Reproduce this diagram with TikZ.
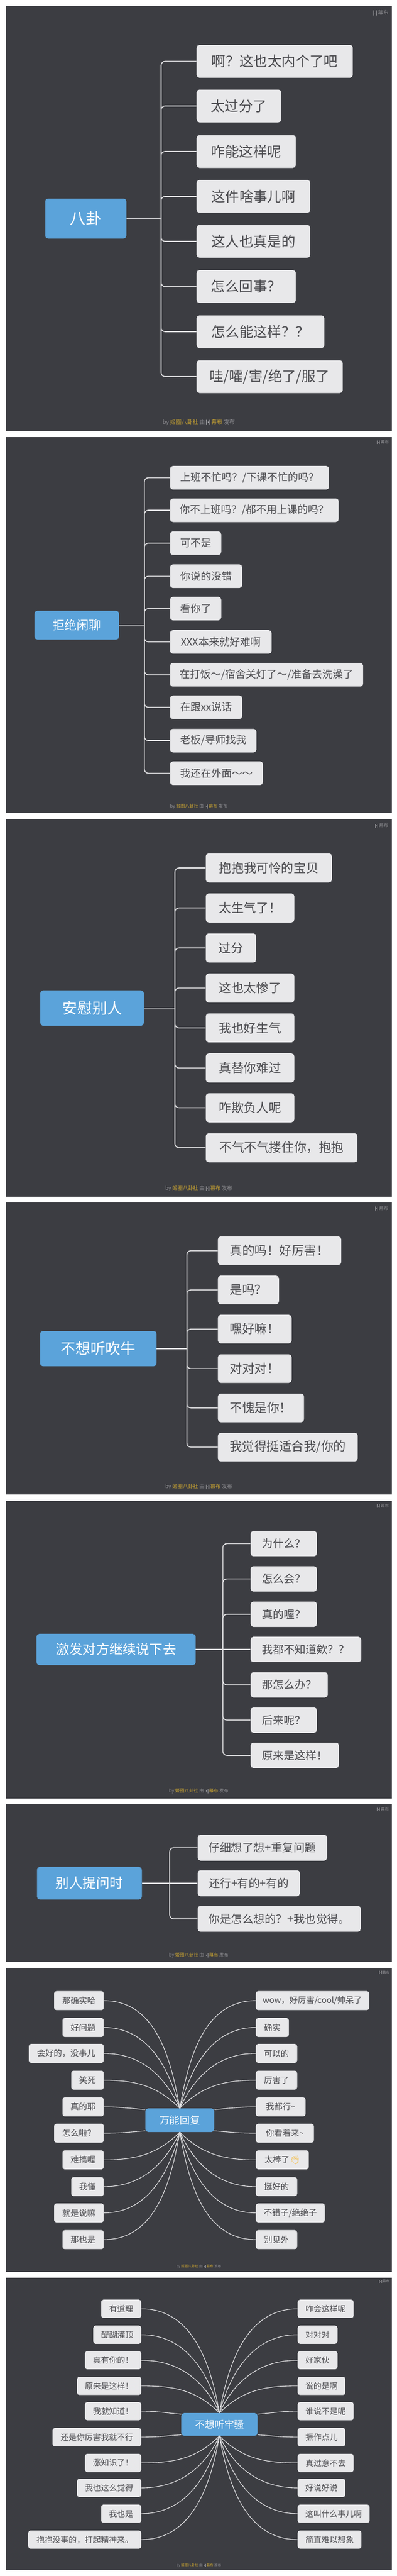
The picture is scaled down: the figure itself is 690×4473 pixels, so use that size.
\documentclass[tikz,border=0pt]{standalone}
\usepackage{fontspec}
\usepackage{tikz}
\usepackage{xcolor}
\setmainfont{Noto Sans CJK SC}
\newfontfamily\emojifont{Noto Emoji}
\definecolor{mmdark}{RGB}{60,61,66}
\definecolor{mmblue}{RGB}{91,163,218}
\definecolor{mmlight}{RGB}{232,232,234}
\definecolor{mmtext}{RGB}{74,74,78}
\definecolor{mmline}{RGB}{222,222,224}
\definecolor{mmgrey}{RGB}{140,140,144}
\definecolor{mmgold}{RGB}{196,160,50}
\definecolor{mmclap}{RGB}{245,190,70}
\newcommand{\mubumark}{\rule[-0.1em]{0.14em}{0.9em}\kern0.12em\raisebox{0.28em}{\rule{0.16em}{0.16em}}\kern0.12em\rule[-0.1em]{0.14em}{0.9em}}
\newcommand{\fontpx}[1]{\fontsize{#1}{#1}\selectfont}
\newcommand{\byline}{by \textcolor{mmgold}{姬圈八卦社} 由 \mubumark{} \textcolor{mmgold}{幕布} 发布}
\tikzstyle{topic} = [rectangle, rounded corners=5pt, inner sep=0pt, text=white, fill=mmblue]
\tikzstyle{reply} = [rectangle, rounded corners=5pt, inner sep=0pt, text=mmtext, fill=mmlight, anchor=west]
\tikzstyle{replyl} = [reply, anchor=east]
\tikzstyle{link} = [draw=mmline, line width=1.6pt]
\tikzstyle{branch} = [link, rounded corners=7pt]
\tikzstyle{spoke} = [draw=mmline, line width=1.1pt]
\tikzstyle{logo} = [inner sep=0pt, anchor=east, text=mmgrey]
\tikzstyle{foot} = [inner sep=0pt, text=mmgrey]

\begin{document}
\begin{tikzpicture}[x=1pt,y=-1pt]
\useasboundingbox (0,0) rectangle (690,4473);
\fill[white] (0,0) rectangle (690,4473);

% Panels
\fill[mmdark] (10,10) rectangle (681,749);
\fill[mmdark] (10,759) rectangle (681,1411);
\fill[mmdark] (10,1422) rectangle (681,2078);
\fill[mmdark] (10,2088) rectangle (681,2595);
\fill[mmdark] (10,2606) rectangle (681,3123);
\fill[mmdark] (10,3132) rectangle (681,3407);
\fill[mmdark] (10,3417) rectangle (681,3945);
\fill[mmdark] (10,3955) rectangle (681,4463);

% Gossip
\node[topic, minimum width=141pt, minimum height=69.5pt, font=\fontpx{27.5}] (gossip) at (149,379.5) {八卦};
\coordinate (gossiptrunk) at (280,379.5);
\tikzstyle{replyg} = [reply, minimum height=57pt, font=\fontpx{24.4}]
\node[replyg, minimum width=271.5pt] (g1) at (341.5,106.5) {啊？这也太内个了吧};
\node[replyg, minimum width=147pt] (g2) at (341.5,184) {太过分了};
\node[replyg, minimum width=172.5pt] (g3) at (341.5,263) {咋能这样呢};
\node[replyg, minimum width=197.5pt] (g4) at (341.5,341) {这件啥事儿啊};
\node[replyg, minimum width=197.5pt] (g5) at (341.5,419) {这人也真是的};
\node[replyg, minimum width=172.5pt] (g6) at (341.5,497.5) {怎么回事？};
\node[replyg, minimum width=222pt] (g7) at (341.5,576) {怎么能这样？？};
\node[replyg, minimum width=254pt] (g8) at (341.5,654) {哇/嚯/害/绝了/服了};
\draw[link] (gossip.east) -- (gossiptrunk);
\draw[branch] (gossiptrunk) |- (g1.west);
\draw[branch] (gossiptrunk) |- (g2.west);
\draw[branch] (gossiptrunk) |- (g3.west);
\draw[branch] (gossiptrunk) |- (g4.west);
\draw[branch] (gossiptrunk) |- (g5.west);
\draw[branch] (gossiptrunk) |- (g6.west);
\draw[branch] (gossiptrunk) |- (g7.west);
\draw[branch] (gossiptrunk) |- (g8.west);
\node[logo, font=\fontpx{9}] (logog) at (675,22.3) {\mubumark\ 幕布};
\node[foot, font=\fontpx{9.7}] (footg) at (345.5,733.4) {\byline};

% Declining small talk
\node[topic, minimum width=147pt, minimum height=50pt, font=\fontpx{21}] (decline) at (133.4,1085.6) {拒绝闲聊};
\coordinate (declinetrunk) at (250.9,1085.6);
\tikzstyle{replyd} = [reply, minimum height=41pt, font=\fontpx{18}]
\node[replyd, minimum width=276.4pt] (d1) at (295.3,829.6) {上班不忙吗？/下课不忙的吗？};
\node[replyd, minimum width=293.2pt] (d2) at (295.3,886) {你不上班吗？/都不用上课的吗？};
\node[replyd, minimum width=89pt] (d3) at (295.3,943.2) {可不是};
\node[replyd, minimum width=125.5pt] (d4) at (295.3,1000.6) {你说的没错};
\node[replyd, minimum width=89pt] (d5) at (295.3,1056.8) {看你了};
\node[replyd, minimum width=176.5pt] (d6) at (295.3,1114.6) {XXX本来就好难啊};
\node[replyd, minimum width=335.7pt] (d7) at (295.3,1171.7) {在打饭～/宿舍关灯了～/准备去洗澡了};
\node[replyd, minimum width=125.5pt] (d8) at (295.3,1228.1) {在跟xx说话};
\node[replyd, minimum width=150.1pt] (d9) at (295.3,1286) {老板/导师找我};
\node[replyd, minimum width=161.6pt] (d10) at (295.3,1342.6) {我还在外面～～};
\draw[link] (decline.east) -- (declinetrunk);
\draw[branch] (declinetrunk) |- (d1.west);
\draw[branch] (declinetrunk) |- (d2.west);
\draw[branch] (declinetrunk) |- (d3.west);
\draw[branch] (declinetrunk) |- (d4.west);
\draw[branch] (declinetrunk) |- (d5.west);
\draw[branch] (declinetrunk) |- (d6.west);
\draw[branch] (declinetrunk) |- (d7.west);
\draw[branch] (declinetrunk) |- (d8.west);
\draw[branch] (declinetrunk) |- (d9.west);
\draw[branch] (declinetrunk) |- (d10.west);
\node[logo, font=\fontpx{7}] (logod) at (676,768) {\mubumark\ 幕布};
\node[foot, font=\fontpx{7.7}] (footd) at (345.5,1400.5) {\byline};

% Comforting
\node[topic, minimum width=180pt, minimum height=61.7pt, font=\fontpx{26}] (comfort) at (160,1750.4) {安慰别人};
\coordinate (comforttrunk) at (304,1750.4);
\tikzstyle{replyc} = [reply, minimum height=50.5pt, font=\fontpx{21.6}]
\node[replyc, minimum width=219.2pt] (c1) at (357.4,1507) {抱抱我可怜的宝贝};
\node[replyc, minimum width=154pt] (c2) at (357.4,1576.5) {太生气了！};
\node[replyc, minimum width=87.6pt] (c3) at (357.4,1646) {过分};
\node[replyc, minimum width=154pt] (c4) at (357.4,1715.6) {这也太惨了};
\node[replyc, minimum width=154pt] (c5) at (357.4,1784.8) {我也好生气};
\node[replyc, minimum width=154pt] (c6) at (357.4,1854.4) {真替你难过};
\node[replyc, minimum width=154pt] (c7) at (357.4,1923.5) {咋欺负人呢};
\node[replyc, minimum width=263.6pt] (c8) at (357.4,1993) {不气不气搂住你，抱抱};
\draw[link] (comfort.east) -- (comforttrunk);
\draw[branch] (comforttrunk) |- (c1.west);
\draw[branch] (comforttrunk) |- (c2.west);
\draw[branch] (comforttrunk) |- (c3.west);
\draw[branch] (comforttrunk) |- (c4.west);
\draw[branch] (comforttrunk) |- (c5.west);
\draw[branch] (comforttrunk) |- (c6.west);
\draw[branch] (comforttrunk) |- (c7.west);
\draw[branch] (comforttrunk) |- (c8.west);
\node[logo, font=\fontpx{8}] (logoc) at (675,1434) {\mubumark\ 幕布};
\node[foot, font=\fontpx{9}] (footc) at (345.5,2064) {\byline};

% Not listening to bragging
\node[topic, minimum width=202.5pt, minimum height=61.3pt, font=\fontpx{26}] (brag) at (170.8,2341.7) {不想听吹牛};
\coordinate (bragtrunk) at (324.8,2341.7);
\tikzstyle{replyb} = [reply, minimum height=49.7pt, font=\fontpx{21.5}]
\node[replyb, minimum width=214.4pt] (b1) at (378.5,2171.7) {真的吗！好厉害！};
\node[replyb, minimum width=106.1pt] (b2) at (378.5,2239.8) {是吗？};
\node[replyb, minimum width=128.1pt] (b3) at (378.5,2307.8) {嘿好嘛！};
\node[replyb, minimum width=128.1pt] (b4) at (378.5,2376.4) {对对对！};
\node[replyb, minimum width=149.7pt] (b5) at (378.5,2444.7) {不愧是你！};
\node[replyb, minimum width=243pt] (b6) at (378.5,2512.8) {我觉得挺适合我/你的};
\draw[link] (brag.east) -- (bragtrunk);
\draw[branch] (bragtrunk) |- (b1.west);
\draw[branch] (bragtrunk) |- (b2.west);
\draw[branch] (bragtrunk) |- (b3.west);
\draw[branch] (bragtrunk) |- (b4.west);
\draw[branch] (bragtrunk) |- (b5.west);
\draw[branch] (bragtrunk) |- (b6.west);
\node[logo, font=\fontpx{8}] (logob) at (675,2098.6) {\mubumark\ 幕布};
\node[foot, font=\fontpx{9}] (footb) at (345.5,2582) {\byline};

% Keeping them talking
\node[topic, minimum width=276.8pt, minimum height=54.3pt, font=\fontpx{23.2}] (prompt) at (201.8,2864.1) {激发对方继续说下去};
\coordinate (prompttrunk) at (387.3,2864.1);
\tikzstyle{replyp} = [reply, minimum height=44pt, font=\fontpx{19}]
\node[replyp, minimum width=115.3pt] (p1) at (435.3,2680.4) {为什么？};
\node[replyp, minimum width=115.3pt] (p2) at (435.3,2741.6) {怎么会？};
\node[replyp, minimum width=115.3pt] (p3) at (435.3,2803) {真的喔？};
\node[replyp, minimum width=192.3pt] (p4) at (435.3,2864.1) {我都不知道欸？？};
\node[replyp, minimum width=134.2pt] (p5) at (435.3,2925.5) {那怎么办？};
\node[replyp, minimum width=115.3pt] (p6) at (435.3,2986.8) {后来呢？};
\node[replyp, minimum width=153.6pt] (p7) at (435.3,3048) {原来是这样！};
\draw[link] (prompt.east) -- (prompttrunk);
\draw[link] (prompttrunk) -- (p4.west);
\draw[branch] (prompttrunk) |- (p1.west);
\draw[branch] (prompttrunk) |- (p2.west);
\draw[branch] (prompttrunk) |- (p3.west);
\draw[branch] (prompttrunk) |- (p5.west);
\draw[branch] (prompttrunk) |- (p6.west);
\draw[branch] (prompttrunk) |- (p7.west);
\node[logo, font=\fontpx{7}] (logop) at (676,2615) {\mubumark\ 幕布};
\node[foot, font=\fontpx{8}] (footp) at (345.5,3110.3) {\byline};

% When asked a question
\node[topic, minimum width=182.2pt, minimum height=56.7pt, font=\fontpx{23.5}] (asked) at (155.4,3270) {别人提问时};
\coordinate (askedtrunk) at (294.9,3270);
\tikzstyle{replya} = [reply, minimum height=45pt, font=\fontpx{19.5}]
\node[replya, minimum width=224.9pt] (a1) at (343.3,3208.3) {仔细想了想+重复问题};
\node[replya, minimum width=177.7pt] (a2) at (343.3,3270) {还行+有的+有的};
\node[replya, minimum width=283.5pt] (a3) at (343.3,3331.8) {你是怎么想的？+我也觉得。};
\draw[link] (asked.east) -- (askedtrunk);
\draw[link] (askedtrunk) -- (a2.west);
\draw[branch] (askedtrunk) |- (a1.west);
\draw[branch] (askedtrunk) |- (a3.west);
\node[logo, font=\fontpx{7}] (logoa) at (676,3142) {\mubumark\ 幕布};
\node[foot, font=\fontpx{8}] (foota) at (345.5,3395.3) {\byline};

% Universal replies
\node[topic, minimum width=119.8pt, minimum height=41pt, font=\fontpx{17.7}] (universal) at (312.5,3681.5) {万能回复};
\tikzstyle{replyu} = [reply, rounded corners=4pt, minimum height=33pt, font=\fontpx{14.5}]
\tikzstyle{replyul} = [replyl, rounded corners=4pt, minimum height=33pt, font=\fontpx{14.5}]
\node[replyul, minimum width=86.3pt] (ul1) at (180.5,3473.9) {那确实哈};
\node[replyul, minimum width=71.8pt] (ul2) at (180.5,3520.5) {好问题};
\node[replyul, minimum width=130.3pt] (ul3) at (180.5,3565.5) {会好的，没事儿};
\node[replyul, minimum width=56.4pt] (ul4) at (180.5,3612) {笑死};
\node[replyul, minimum width=71.8pt] (ul5) at (180.5,3658.4) {真的耶};
\node[replyul, minimum width=86.3pt] (ul6) at (180.5,3704) {怎么啦？};
\node[replyul, minimum width=71.8pt] (ul7) at (180.5,3750.4) {难搞喔};
\node[replyul, minimum width=56.4pt] (ul8) at (180.5,3796.9) {我懂};
\node[replyul, minimum width=86.3pt] (ul9) at (180.5,3842.5) {就是说嘛};
\node[replyul, minimum width=71.8pt] (ul10) at (180.5,3888.9) {那也是};
\node[replyu, minimum width=196.8pt] (ur1) at (444.5,3473.9) {wow，好厉害/cool/帅呆了};
\node[replyu, minimum width=57.3pt] (ur2) at (444.5,3520.5) {确实};
\node[replyu, minimum width=71.8pt] (ur3) at (444.5,3565.5) {可以的};
\node[replyu, minimum width=71.8pt] (ur4) at (444.5,3612) {厉害了};
\node[replyu, minimum width=86.3pt] (ur5) at (444.5,3658.4) {我都行\textasciitilde};
\node[replyu, minimum width=100.8pt] (ur6) at (444.5,3704) {你看着来\textasciitilde};
\node[replyu, minimum width=92pt] (ur7) at (444.5,3750.4) {太棒了\textcolor{mmclap}{\emojifont 👏}};
\node[replyu, minimum width=71.8pt] (ur8) at (444.5,3796.9) {挺好的};
\node[replyu, minimum width=119.8pt] (ur9) at (444.5,3842.5) {不错子/绝绝子};
\node[replyu, minimum width=71.8pt] (ur10) at (444.5,3888.9) {别见外};
\draw[spoke] (ul1.east) to[out=0,in=100] (universal.north);
\draw[spoke] (ul2.east) to[out=0,in=105] (universal.north);
\draw[spoke] (ul3.east) to[out=0,in=115] (universal.north);
\draw[spoke] (ul4.east) to[out=0,in=135] (universal.north);
\draw[spoke] (ul5.east) to[out=0,in=175] (universal.163);
\draw[spoke] (ul6.east) to[out=0,in=185] (universal.197);
\draw[spoke] (ul7.east) to[out=0,in=225] (universal.south);
\draw[spoke] (ul8.east) to[out=0,in=245] (universal.south);
\draw[spoke] (ul9.east) to[out=0,in=255] (universal.south);
\draw[spoke] (ul10.east) to[out=0,in=260] (universal.south);
\draw[spoke] (ur1.west) to[out=180,in=80] (universal.north);
\draw[spoke] (ur2.west) to[out=180,in=75] (universal.north);
\draw[spoke] (ur3.west) to[out=180,in=65] (universal.north);
\draw[spoke] (ur4.west) to[out=180,in=45] (universal.north);
\draw[spoke] (ur5.west) to[out=180,in=5] (universal.17);
\draw[spoke] (ur6.west) to[out=180,in=-5] (universal.-17);
\draw[spoke] (ur7.west) to[out=180,in=-45] (universal.south);
\draw[spoke] (ur8.west) to[out=180,in=-65] (universal.south);
\draw[spoke] (ur9.west) to[out=180,in=-75] (universal.south);
\draw[spoke] (ur10.west) to[out=180,in=-80] (universal.south);
\node[logo, font=\fontpx{6}] (logou) at (677,3424.8) {\mubumark\ 幕布};
\node[foot, font=\fontpx{6}] (footu) at (345.5,3935.5) {\byline};

% Not listening to complaints
\node[topic, minimum width=132.6pt, minimum height=39.5pt, font=\fontpx{17}] (complaint) at (381.4,4209.8) {不想听牢骚};
\tikzstyle{replyn} = [reply, rounded corners=4pt, minimum height=31.7pt, font=\fontpx{14}]
\tikzstyle{replynl} = [replyl, rounded corners=4pt, minimum height=31.7pt, font=\fontpx{14}]
\node[replynl, minimum width=69.6pt] (nl1) at (245.6,4009) {有道理};
\node[replynl, minimum width=83.2pt] (nl2) at (245.6,4054) {醍醐灌顶};
\node[replynl, minimum width=97.7pt] (nl3) at (245.6,4098.3) {真有你的！};
\node[replynl, minimum width=111.4pt] (nl4) at (245.6,4142.8) {原来是这样！};
\node[replynl, minimum width=97.7pt] (nl5) at (245.6,4186.8) {我就知道！};
\node[replynl, minimum width=154.1pt] (nl6) at (245.6,4231.8) {还是你厉害我就不行};
\node[replynl, minimum width=97.7pt] (nl7) at (245.6,4276.6) {涨知识了！};
\node[replynl, minimum width=111.4pt] (nl8) at (245.6,4320) {我也这么觉得};
\node[replynl, minimum width=69.6pt] (nl9) at (245.6,4364.8) {我也是};
\node[replynl, minimum width=196.3pt] (nl10) at (245.6,4409.8) {抱抱没事的，打起精神来。};
\node[replyn, minimum width=97.2pt] (nr1) at (517.2,4009) {咋会这样呢};
\node[replyn, minimum width=69.1pt] (nr2) at (517.2,4054) {对对对};
\node[replyn, minimum width=69.1pt] (nr3) at (517.2,4098.3) {好家伙};
\node[replyn, minimum width=82.8pt] (nr4) at (517.2,4142.8) {说的是啊};
\node[replyn, minimum width=97.2pt] (nr5) at (517.2,4186.8) {谁说不是呢};
\node[replyn, minimum width=82.8pt] (nr6) at (517.2,4231.8) {振作点儿};
\node[replyn, minimum width=97.2pt] (nr7) at (517.2,4276.6) {真过意不去};
\node[replyn, minimum width=82.8pt] (nr8) at (517.2,4320) {好说好说};
\node[replyn, minimum width=125pt] (nr9) at (517.2,4364.8) {这叫什么事儿啊};
\node[replyn, minimum width=110.8pt] (nr10) at (517.2,4409.8) {简直难以想象};
\draw[spoke] (nl1.east) to[out=0,in=100] (complaint.north);
\draw[spoke] (nl2.east) to[out=0,in=105] (complaint.north);
\draw[spoke] (nl3.east) to[out=0,in=115] (complaint.north);
\draw[spoke] (nl4.east) to[out=0,in=135] (complaint.north);
\draw[spoke] (nl5.east) to[out=0,in=175] (complaint.165);
\draw[spoke] (nl6.east) to[out=0,in=185] (complaint.195);
\draw[spoke] (nl7.east) to[out=0,in=225] (complaint.south);
\draw[spoke] (nl8.east) to[out=0,in=245] (complaint.south);
\draw[spoke] (nl9.east) to[out=0,in=255] (complaint.south);
\draw[spoke] (nl10.east) to[out=0,in=260] (complaint.south);
\draw[spoke] (nr1.west) to[out=180,in=80] (complaint.north);
\draw[spoke] (nr2.west) to[out=180,in=75] (complaint.north);
\draw[spoke] (nr3.west) to[out=180,in=65] (complaint.north);
\draw[spoke] (nr4.west) to[out=180,in=45] (complaint.north);
\draw[spoke] (nr5.west) to[out=180,in=5] (complaint.15);
\draw[spoke] (nr6.west) to[out=180,in=-5] (complaint.-15);
\draw[spoke] (nr7.west) to[out=180,in=-45] (complaint.south);
\draw[spoke] (nr8.west) to[out=180,in=-65] (complaint.south);
\draw[spoke] (nr9.west) to[out=180,in=-75] (complaint.south);
\draw[spoke] (nr10.west) to[out=180,in=-80] (complaint.south);
\node[logo, font=\fontpx{6}] (logon) at (677,3961.5) {\mubumark\ 幕布};
\node[foot, font=\fontpx{6}] (footn) at (345.5,4454.6) {\byline};
\end{tikzpicture}
\end{document}
